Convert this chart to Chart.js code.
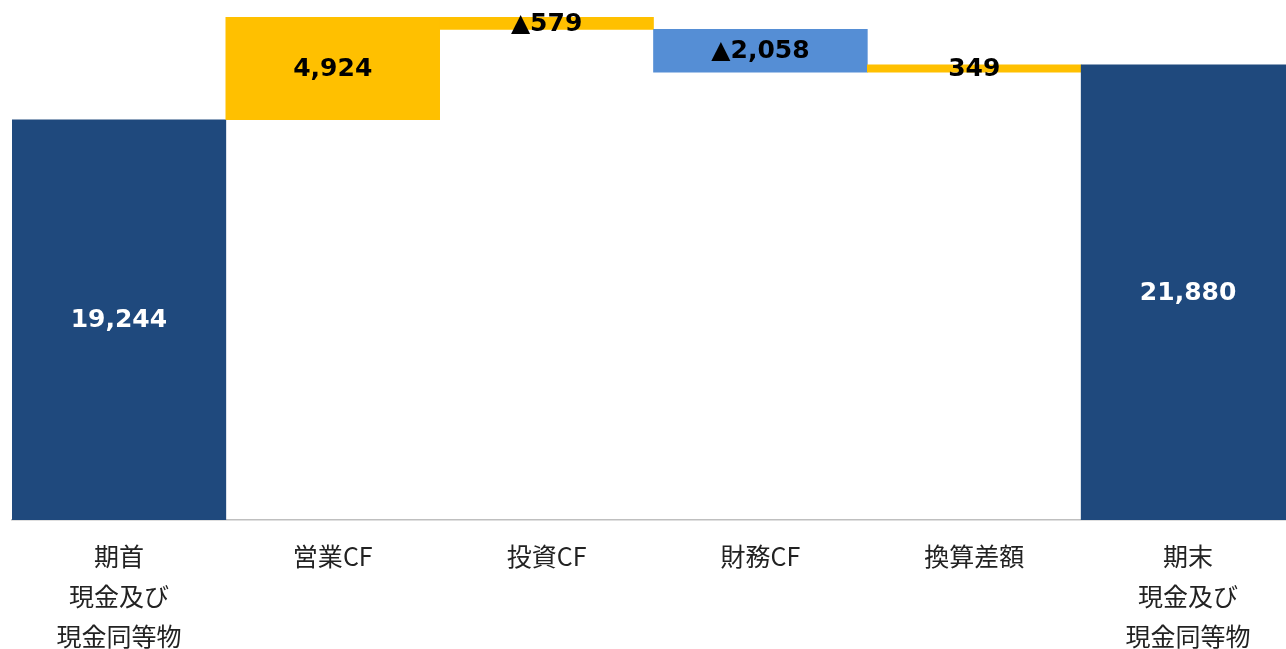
<!DOCTYPE html>
<html>
<head>
<meta charset="utf-8">
<script src="https://cdn.jsdelivr.net/npm/chart.js@4"></script>
<style>
  html, body { margin: 0; padding: 0; background: #fff; overflow: hidden; }
  #wrap { width: 1286px; height: 649px; overflow: hidden; }
  #box { width: 1300px; height: 649px; }
</style>
</head>
<body>
<div id="wrap"><div id="box"><canvas id="chart"></canvas></div></div>
<script>
// キャッシュフロー ウォーターフォール
const categories = [
    ['期首', '現金及び', '現金同等物'],
    '営業CF',
    '投資CF',
    '財務CF',
    '換算差額',
    ['期末', '現金及び', '現金同等物']
];
const openingBalance = 19244;
const changes = [4924, -579, -2058, 349];
const closingBalance = 21880;

const navy = 'rgb(31, 73, 125)';
const yellow = 'rgb(255, 192, 0)';
const blue = 'rgb(85, 142, 213)';
const changeColors = [yellow, yellow, blue, yellow];

// floating bars built from the values above
const ranges = [[0, openingBalance]];
const shown = [openingBalance];
let running = openingBalance;
changes.forEach(v => {
    const next = running + v;
    ranges.push([Math.min(running, next), Math.max(running, next)]);
    shown.push(v);
    running = next;
});
ranges.push([0, closingBalance]);
shown.push(closingBalance);

const colors = [navy, ...changeColors, navy];
const textColors = ['#fff', '#000', '#000', '#000', '#000', '#fff'];

const fmt = v => (v < 0 ? '▲' : '') + Math.abs(v).toLocaleString('en-US');

const valueLabels = {
    id: 'valueLabels',
    afterDatasetsDraw(chart) {
        const ctx = chart.ctx;
        const meta = chart.getDatasetMeta(0);
        ctx.save();
        ctx.font = 'bold 25px "DejaVu Sans", Verdana, sans-serif';
        ctx.textAlign = 'center';
        ctx.textBaseline = 'middle';
        meta.data.forEach((bar, i) => {
            const y = (bar.y + bar.base) / 2;
            ctx.fillStyle = textColors[i];
            ctx.fillText(fmt(shown[i]), bar.x, y + 1);
        });
        ctx.restore();
    }
};

new Chart(document.getElementById('chart'), {
    type: 'bar',
    data: {
        labels: categories,
        datasets: [{
            data: ranges,
            backgroundColor: colors,
            borderWidth: 0,
            barPercentage: 1,
            categoryPercentage: 1
        }]
    },
    options: {
        responsive: true,
        maintainAspectRatio: false,
        animation: false,
        layout: { padding: { left: 12, right: 5, top: 0, bottom: 0 } },
        plugins: {
            legend: { display: false },
            tooltip: { enabled: false }
        },
        scales: {
            x: {
                grid: { display: false },
                border: { display: true, color: '#bfbfbf', width: 1.5 },
                ticks: {
                    color: '#222',
                    padding: 8,
                    maxRotation: 0,
                    autoSkip: false,
                    font: { family: '"Noto Sans CJK JP", sans-serif', size: 25, lineHeight: 1.6 }
                },
                afterFit: s => { s.height = 129; }
            },
            y: {
                display: false,
                min: 0,
                max: 25000
            }
        }
    },
    plugins: [valueLabels]
});
</script>
</body>
</html>
